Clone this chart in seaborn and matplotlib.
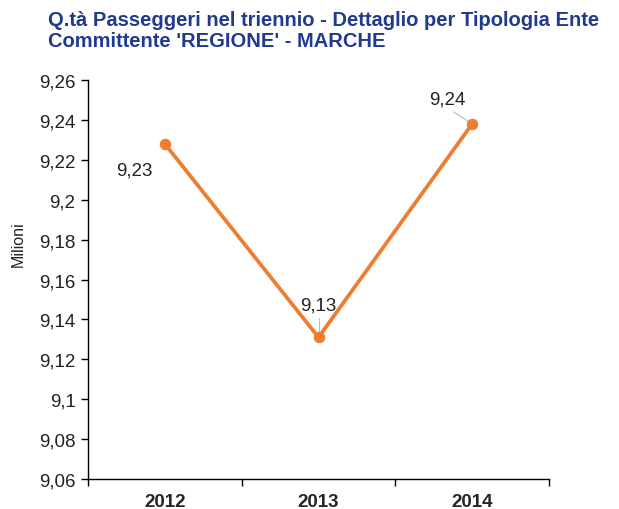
import numpy as np
import pandas as pd
import matplotlib
matplotlib.use('Agg')
from matplotlib import pyplot as plt
from matplotlib.ticker import FixedLocator, FuncFormatter
import seaborn as sns

years = ['2012', '2013', '2014']
passeggeri = [9.228, 9.131, 9.238]
etichette = ['9,23', '9,13', '9,24']

sns.set_style('white')
plt.rcParams['font.family'] = ['Liberation Sans', 'DejaVu Sans']

df = pd.DataFrame({'pos': np.arange(len(years)), 'val': passeggeri})

fig = plt.figure(figsize=(6.19, 5.10), dpi=100)
ax = fig.add_axes([88 / 619, 30 / 510, 461 / 619, 399 / 510])

orange = '#ED7D31'
sns.lineplot(data=df, x='pos', y='val', ax=ax, color=orange, linewidth=2.7,
             marker='o', markersize=7.5, markeredgecolor=orange)

ax.set_xlim(-0.5, 2.5)
ax.set_ylim(9.06, 9.26)
ax.set_yticks(np.arange(9.06, 9.261, 0.02))
ax.yaxis.set_major_formatter(FuncFormatter(lambda v, p: ('%.2f' % v).rstrip('0').replace('.', ',')))
ax.set_xticks(range(len(years)))
ax.set_xticklabels(years, fontweight='bold', fontsize=13.5)
ax.xaxis.set_minor_locator(FixedLocator([-0.5, 0.5, 1.5, 2.5]))
ax.tick_params(axis='x', which='major', length=0, pad=10)
ax.tick_params(axis='x', which='minor', length=5, width=1, color='black', direction='out', bottom=True)
ax.tick_params(axis='y', length=5, width=1, color='black', direction='out', left=True, labelsize=13.5, pad=4,
               labelcolor='#222222')
ax.set_xlabel('')
ax.set_ylabel('Milioni', fontsize=11.5, color='#222222')
ax.yaxis.set_label_coords(-0.135, 0.59)

for s in ['top', 'right']:
    ax.spines[s].set_visible(False)
for s in ['left', 'bottom']:
    ax.spines[s].set_color('black')
    ax.spines[s].set_linewidth(1)

# data labels with leader lines
offsets = [(-0.2, -0.013), (0.0, 0.016), (-0.16, 0.0125)]
leader = [False, True, True]
for i, (lab, (dx, dy)) in enumerate(zip(etichette, offsets)):
    ax.text(i + dx, passeggeri[i] + dy, lab, ha='center', va='center', fontsize=13.5, color='#222222')
    if leader[i]:
        ax.plot([i + dx * 0.75, i], [passeggeri[i] + dy - 0.0065, passeggeri[i]],
                color='#bbbbbb', linewidth=0.8, zorder=1)

fig.text(48 / 619, 1 - 11 / 510, "Q.tà Passeggeri nel triennio - Dettaglio per Tipologia Ente\nCommittente 'REGIONE' - MARCHE",
         ha='left', va='top', fontsize=14.5, fontweight='bold', color='#1F3A8F', linespacing=1.12)

fig.savefig('out.png', dpi=100)
